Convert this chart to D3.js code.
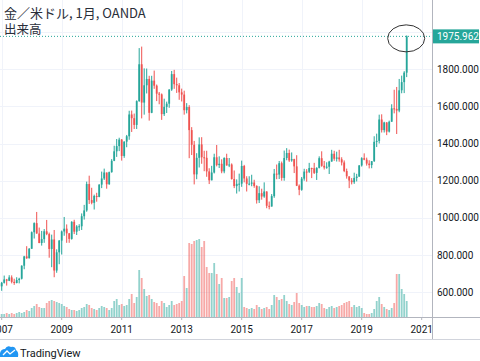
<!DOCTYPE html>
<html>
<head>
<meta charset="utf-8">
<script src="https://cdn.jsdelivr.net/npm/d3@7"></script>
<style>
body { margin: 0; background: #fff; }
svg { display: block; font-family: Roboto, "Noto Sans CJK JP", sans-serif; }
</style>
</head>
<body>
<div id="chart"></div>
<script>
// monthly bars, first one is Dec 2006 (month index -1, index 0 = Jan 2007)
var firstMonth = -1;

// [open, high, low, close]
var ohlc = [
  [646, 650, 606, 632],
  // 2007
  [632, 656, 608, 651], [651, 690, 647, 669], [669, 672, 636, 662], [662, 692, 660, 680],
  [680, 691, 648, 656], [656, 673, 640, 650], [650, 681, 648, 666], [666, 678, 648, 673],
  [673, 745, 669, 743], [743, 796, 724, 793], [793, 848, 780, 783], [783, 838, 782, 834],
  // 2008
  [834, 927, 834, 923], [923, 976, 889, 972], [972, 1032, 915, 916], [916, 948, 864, 865],
  [865, 930, 851, 886], [886, 940, 866, 928], [928, 989, 907, 913], [913, 921, 786, 833],
  [833, 910, 735, 884], [884, 935, 681, 717], [717, 831, 705, 815], [815, 881, 751, 878],
  // 2009
  [878, 932, 803, 927], [927, 1005, 904, 942], [942, 965, 866, 917], [917, 919, 866, 887],
  [887, 982, 883, 979], [979, 990, 913, 926], [926, 961, 908, 954], [954, 966, 930, 955],
  [955, 1024, 935, 1009], [1009, 1070, 991, 1040], [1040, 1195, 1033, 1182], [1182, 1227, 1075, 1096],
  // 2010
  [1096, 1162, 1073, 1081], [1081, 1125, 1045, 1118], [1118, 1135, 1087, 1113], [1113, 1181, 1111, 1179],
  [1179, 1249, 1160, 1212], [1212, 1265, 1204, 1244], [1244, 1244, 1157, 1181], [1181, 1249, 1178, 1246],
  [1246, 1316, 1243, 1307], [1307, 1388, 1305, 1358], [1358, 1424, 1328, 1386], [1386, 1431, 1359, 1421],
  // 2011
  [1421, 1424, 1308, 1333], [1333, 1412, 1323, 1410], [1410, 1446, 1380, 1439], [1439, 1576, 1420, 1556],
  [1556, 1577, 1462, 1536], [1536, 1561, 1478, 1500], [1500, 1632, 1478, 1628], [1628, 1913, 1624, 1826],
  [1826, 1921, 1535, 1620], [1620, 1804, 1555, 1713], [1713, 1803, 1669, 1747], [1747, 1764, 1523, 1565],
  // 2012
  [1565, 1764, 1563, 1738], [1738, 1792, 1694, 1711], [1711, 1717, 1628, 1668], [1668, 1677, 1611, 1664],
  [1664, 1669, 1527, 1558], [1558, 1641, 1548, 1597], [1597, 1625, 1564, 1614], [1614, 1692, 1592, 1690],
  [1690, 1790, 1683, 1773], [1773, 1796, 1694, 1719], [1719, 1754, 1672, 1713], [1713, 1725, 1635, 1675],
  // 2013
  [1675, 1695, 1626, 1663], [1663, 1684, 1555, 1579], [1579, 1617, 1562, 1596], [1596, 1606, 1321, 1472],
  [1472, 1488, 1338, 1393], [1393, 1414, 1180, 1234], [1234, 1348, 1208, 1323], [1323, 1433, 1271, 1395],
  [1395, 1434, 1291, 1326], [1326, 1361, 1251, 1323], [1323, 1361, 1221, 1250], [1250, 1267, 1182, 1202],
  // 2014
  [1202, 1280, 1202, 1244], [1244, 1345, 1239, 1326], [1326, 1392, 1277, 1284], [1284, 1331, 1268, 1291],
  [1291, 1315, 1240, 1250], [1250, 1326, 1240, 1322], [1322, 1345, 1281, 1282], [1282, 1322, 1273, 1287],
  [1287, 1293, 1206, 1209], [1209, 1255, 1160, 1171], [1171, 1207, 1131, 1183], [1183, 1238, 1142, 1184],
  // 2015
  [1184, 1308, 1167, 1279], [1279, 1285, 1191, 1212], [1212, 1224, 1142, 1183], [1183, 1224, 1175, 1184],
  [1184, 1232, 1170, 1190], [1190, 1205, 1162, 1172], [1172, 1175, 1077, 1095], [1095, 1170, 1080, 1133],
  [1133, 1157, 1098, 1115], [1115, 1191, 1108, 1142], [1142, 1143, 1052, 1065], [1065, 1088, 1046, 1061],
  // 2016
  [1061, 1128, 1061, 1117], [1117, 1263, 1108, 1238], [1238, 1287, 1208, 1233], [1233, 1306, 1209, 1294],
  [1294, 1303, 1200, 1215], [1215, 1362, 1200, 1322], [1322, 1375, 1310, 1349], [1349, 1367, 1301, 1309],
  [1309, 1352, 1302, 1316], [1316, 1318, 1241, 1277], [1277, 1337, 1171, 1173], [1173, 1180, 1122, 1151],
  // 2017
  [1151, 1220, 1146, 1211], [1211, 1264, 1200, 1249], [1249, 1262, 1195, 1248], [1248, 1296, 1241, 1268],
  [1268, 1270, 1214, 1267], [1267, 1296, 1236, 1242], [1242, 1272, 1204, 1269], [1269, 1331, 1266, 1321],
  [1321, 1358, 1275, 1280], [1280, 1306, 1260, 1271], [1271, 1299, 1264, 1275], [1275, 1307, 1236, 1303],
  // 2018
  [1303, 1366, 1302, 1345], [1345, 1361, 1307, 1318], [1318, 1356, 1303, 1325], [1325, 1366, 1302, 1315],
  [1315, 1326, 1282, 1298], [1298, 1309, 1246, 1252], [1252, 1265, 1211, 1224], [1224, 1219, 1160, 1201],
  [1201, 1214, 1180, 1192], [1192, 1243, 1183, 1215], [1215, 1237, 1196, 1222], [1222, 1284, 1221, 1282],
  // 2019
  [1282, 1326, 1276, 1321], [1321, 1347, 1310, 1313], [1313, 1324, 1281, 1292], [1292, 1310, 1266, 1284],
  [1284, 1305, 1267, 1305], [1305, 1439, 1301, 1409], [1409, 1453, 1381, 1414], [1414, 1555, 1400, 1529],
  [1529, 1557, 1459, 1472], [1472, 1517, 1459, 1513], [1513, 1515, 1445, 1464], [1464, 1523, 1459, 1517],
  // 2020
  [1517, 1611, 1517, 1589], [1589, 1689, 1562, 1586], [1586, 1704, 1451, 1577], [1577, 1747, 1568, 1686],
  [1686, 1765, 1670, 1730], [1730, 1789, 1671, 1781], [1781, 1981, 1757, 1975.962]
];

// tick volume (relative units)
var volume = [
  3,
  3, 3, 4, 3, 4, 3, 4, 5, 4, 5, 7, 6,
  9, 11, 13, 10, 9, 9, 14, 16, 17, 16, 15, 14,
  13, 11, 10, 8, 7, 7, 6, 7, 9, 10, 13, 12,
  9, 8, 7, 9, 11, 10, 9, 7, 9, 16, 18, 12,
  13, 11, 12, 18, 23, 14, 20, 47, 39, 28, 21, 22,
  18, 15, 14, 11, 16, 14, 10, 12, 16, 12, 13, 14,
  16, 41, 29, 74, 73, 76, 77, 78, 70, 76, 50, 44,
  44, 54, 43, 33, 39, 19, 19, 20, 36, 39, 30, 24,
  39, 10, 9, 8, 9, 8, 12, 10, 8, 9, 10, 8,
  12, 22, 20, 17, 18, 22, 16, 13, 12, 15, 24, 14,
  12, 10, 11, 11, 10, 10, 11, 14, 13, 9, 8, 10,
  11, 9, 10, 11, 12, 14, 15, 16, 10, 12, 10, 11,
  9, 4, 3, 3, 4, 8, 16, 20, 13, 10, 8, 7,
  9, 14, 43, 43, 28, 23, 16
];

var yearTicks = [2007, 2009, 2011, 2013, 2015, 2017, 2019, 2021];
var gridPrices = [600, 800, 1000, 1200, 1400, 1600, 1800, 2000];
var priceLabels = [600, 800, 1000, 1200, 1400, 1600, 1800]; // 2000 sits under the last-price tag
var lastPrice = 1975.962;
var title = "金／米ドル, 1月, OANDA";
var subTitle = "出来高";

var width = 480, height = 361;
var plotRight = 432, plotBottom = 317, footerLine = 339;
var upColor = "#26a69a", downColor = "#ef5350";

var svg = d3.select("#chart").append("svg")
    .attr("width", width)
    .attr("height", height);

var x = d3.scaleLinear().domain([0, 168]).range([1.7, 421.7]);
var y = d3.scaleLinear().domain([600, 1800]).range([292.3, 69.1]);
var yVol = d3.scaleLinear().domain([0, 80]).range([plotBottom, plotBottom - 80]);

var bars = ohlc.map(function (d, i) {
    return { m: i + firstMonth, o: d[0], h: d[1], l: d[2], c: d[3], v: volume[i] };
});

svg.append("clipPath").attr("id", "plot")
    .append("rect").attr("width", plotRight).attr("height", plotBottom);

// grid
var grid = svg.append("g").attr("clip-path", "url(#plot)");
grid.selectAll("line.h").data(gridPrices).enter().append("line")
    .attr("x1", 0).attr("x2", plotRight)
    .attr("y1", function (d) { return Math.round(y(d)) + 0.5; })
    .attr("y2", function (d) { return Math.round(y(d)) + 0.5; })
    .attr("stroke", "#f0f3fa");
grid.selectAll("line.v").data(yearTicks).enter().append("line")
    .attr("y1", 0).attr("y2", plotBottom)
    .attr("x1", function (d) { return Math.round(x((d - 2007) * 12)) + 0.5; })
    .attr("x2", function (d) { return Math.round(x((d - 2007) * 12)) + 0.5; })
    .attr("stroke", "#f0f3fa");

var plot = svg.append("g").attr("clip-path", "url(#plot)");

// volume
plot.append("g").selectAll("rect").data(bars).enter().append("rect")
    .attr("x", function (d) { return x(d.m) - 0.9; })
    .attr("width", 1.8)
    .attr("y", function (d) { return yVol(d.v); })
    .attr("height", function (d) { return yVol(0) - yVol(d.v); })
    .attr("fill", function (d) { return d.c >= d.o ? upColor : downColor; })
    .attr("fill-opacity", 0.5);

// last price line
plot.append("line")
    .attr("x1", 0).attr("x2", plotRight)
    .attr("y1", y(lastPrice)).attr("y2", y(lastPrice))
    .attr("stroke", upColor)
    .attr("stroke-dasharray", "1,2");

// candles
var candle = plot.append("g").selectAll("g").data(bars).enter().append("g")
    .attr("fill", function (d) { return d.c >= d.o ? upColor : downColor; })
    .attr("stroke", function (d) { return d.c >= d.o ? upColor : downColor; });

candle.append("line")
    .attr("x1", function (d) { return x(d.m); })
    .attr("x2", function (d) { return x(d.m); })
    .attr("y1", function (d) { return y(d.h); })
    .attr("y2", function (d) { return y(d.l); })
    .attr("stroke-width", 1);

candle.append("rect")
    .attr("stroke", "none")
    .attr("x", function (d) { return x(d.m) - 0.9; })
    .attr("width", 1.8)
    .attr("y", function (d) { return y(Math.max(d.o, d.c)); })
    .attr("height", function (d) { return Math.max(1, Math.abs(y(d.o) - y(d.c))); });

// circle around the last bar
svg.append("ellipse")
    .attr("cx", x(bars[bars.length - 1].m) - 0.5)
    .attr("cy", y(lastPrice) + 2)
    .attr("rx", 18.5).attr("ry", 13.5)
    .attr("fill", "none")
    .attr("stroke", "#333")
    .attr("stroke-width", 1);

// axes frame
svg.append("line").attr("x1", plotRight + 0.5).attr("x2", plotRight + 0.5)
    .attr("y1", 0).attr("y2", footerLine).attr("stroke", "#b2b5be");
svg.append("line").attr("x1", 0).attr("x2", width)
    .attr("y1", plotBottom + 0.5).attr("y2", plotBottom + 0.5).attr("stroke", "#b2b5be");
svg.append("line").attr("x1", 0).attr("x2", width)
    .attr("y1", footerLine + 0.5).attr("y2", footerLine + 0.5).attr("stroke", "#d1d4dc");

// price labels
svg.append("g").selectAll("text").data(priceLabels).enter().append("text")
    .attr("x", 437)
    .attr("y", function (d) { return y(d); })
    .attr("dy", "0.35em")
    .attr("font-size", 10)
    .attr("fill", "#131722")
    .text(function (d) { return d3.format(".3f")(d); });

svg.append("rect")
    .attr("x", plotRight + 1).attr("y", y(lastPrice) - 7)
    .attr("width", 46).attr("height", 14)
    .attr("fill", upColor);
svg.append("text")
    .attr("x", 437).attr("y", y(lastPrice))
    .attr("dy", "0.35em")
    .attr("font-size", 10)
    .attr("fill", "#fff")
    .text(d3.format(".3f")(lastPrice));

// time labels
var xt = svg.append("g").selectAll("g").data(yearTicks).enter().append("g")
    .attr("transform", function (d) { return "translate(" + x((d - 2007) * 12) + "," + plotBottom + ")"; });
xt.append("line").attr("y1", 0).attr("y2", 3).attr("stroke", "#b2b5be");
xt.append("text")
    .attr("y", 12).attr("dy", "0.35em")
    .attr("text-anchor", "middle")
    .attr("font-size", 10)
    .attr("fill", "#131722")
    .text(function (d) { return d; });

// title
svg.append("text").attr("x", 4).attr("y", 18)
    .attr("font-size", 13).attr("fill", "#2a2e39")
    .attr("font-family", "'Noto Sans CJK JP', sans-serif")
    .text(title);
svg.append("text").attr("x", 4).attr("y", 34)
    .attr("font-size", 12.5).attr("fill", "#2a2e39")
    .attr("font-family", "'Noto Sans CJK JP', sans-serif")
    .text(subTitle);

// logo
var logo = svg.append("g").attr("transform", "translate(0,345)");
logo.append("path")
    .attr("d", "M0,12 L0,8 Q1,4 5,4 Q7,0 11,2 Q15,1 16,5 Q19,7 18,12 Z")
    .attr("fill", "#2196f3");
logo.append("path")
    .attr("d", "M3,10 L7,6 L10,9 L15,5")
    .attr("fill", "none").attr("stroke", "#fff").attr("stroke-width", 1.3);
svg.append("text").attr("x", 20).attr("y", 353).attr("dy", "0.35em")
    .attr("font-size", 11).attr("fill", "#131722")
    .text("TradingView");
</script>
</body>
</html>
